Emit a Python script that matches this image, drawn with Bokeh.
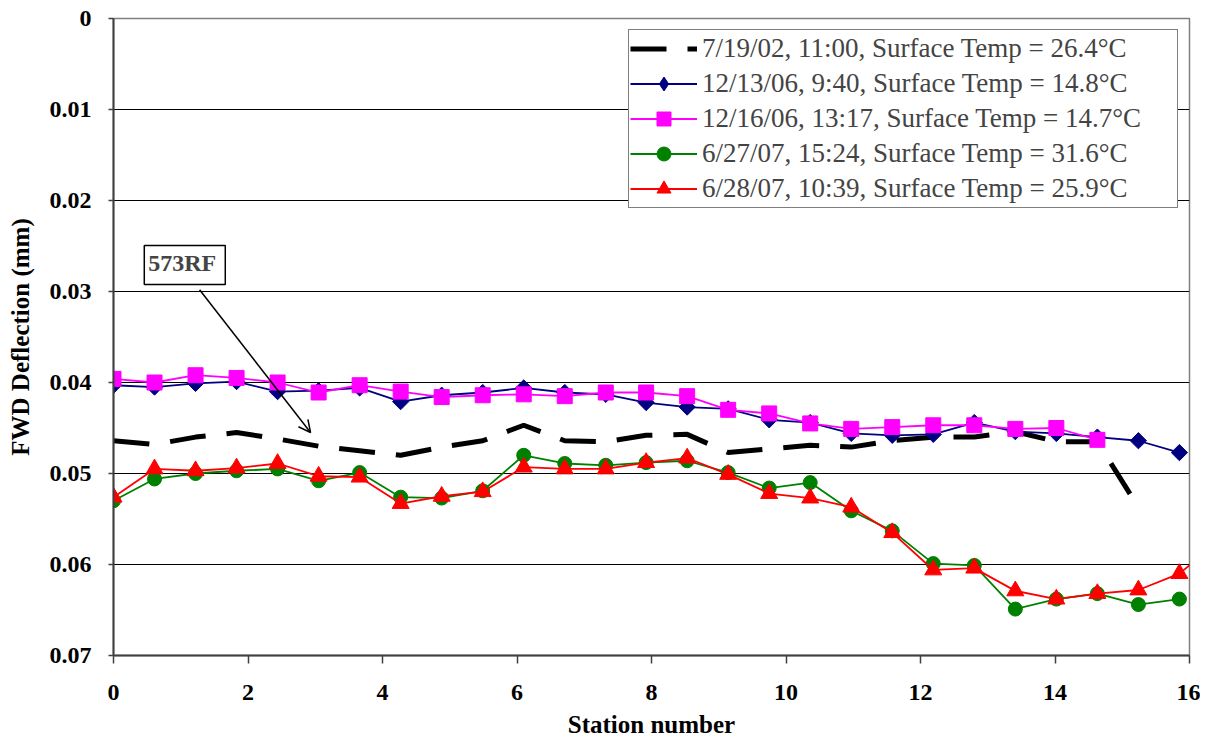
from bokeh.plotting import figure
from bokeh.models import (Range1d, FixedTicker, CustomJSTickFormatter, Legend, LegendItem,
                          Label, Arrow, OpenHead, CDSView, IndexFilter)
from bokeh.embed import file_html
from bokeh.resources import INLINE

# FWD deflection along section 573RF, five test dates

stations = [0.00, 0.61, 1.22, 1.83, 2.44, 3.05, 3.66, 4.27, 4.88, 5.49, 6.10, 6.71, 7.32, 7.92,
            8.53, 9.14, 9.75, 10.36, 10.97, 11.58, 12.19, 12.80, 13.41, 14.02, 14.63, 15.24,
            15.85, 16.46]

defl_2002 = [0.0464, 0.0468, 0.0460, 0.0455, 0.0462, 0.0470, 0.0475, 0.0480, 0.0471, 0.0464,
             0.0447, 0.0464, 0.0465, 0.0458, 0.0457, 0.0477, 0.0473, 0.0469, 0.0471, 0.0464,
             0.0460, 0.0460, 0.0454, 0.0465, 0.0465, 0.0537]
defl_dec13 = [0.0403, 0.0405, 0.0401, 0.0399, 0.0410, 0.0409, 0.0406, 0.0421, 0.0414, 0.0411,
              0.0406, 0.0411, 0.0413, 0.0422, 0.0427, 0.0429, 0.0441, 0.0444, 0.0456, 0.0458,
              0.0457, 0.0444, 0.0454, 0.0456, 0.0460, 0.0464, 0.0477]
defl_dec16 = [0.0396, 0.0400, 0.0392, 0.0395, 0.0400, 0.0411, 0.0403, 0.0410, 0.0416, 0.0414,
              0.0413, 0.0415, 0.0411, 0.0411, 0.0415, 0.0430, 0.0434, 0.0445, 0.0451, 0.0449,
              0.0447, 0.0447, 0.0451, 0.0450, 0.0463]
defl_jun27 = [0.0530, 0.0506, 0.0500, 0.0497, 0.0495, 0.0508, 0.0499, 0.0526, 0.0527, 0.0519,
              0.0480, 0.0489, 0.0491, 0.0488, 0.0486, 0.0499, 0.0516, 0.0510, 0.0541, 0.0563,
              0.0599, 0.0601, 0.0649, 0.0638, 0.0632, 0.0644, 0.0638]
defl_jun28 = [0.0526, 0.0495, 0.0497, 0.0494, 0.0489, 0.0503, 0.0504, 0.0533, 0.0525, 0.0520,
              0.0493, 0.0495, 0.0495, 0.0488, 0.0483, 0.0501, 0.0522, 0.0527, 0.0537, 0.0565,
              0.0606, 0.0604, 0.0629, 0.0638, 0.0632, 0.0628, 0.0610, 0.0573]

labels = ["7/19/02, 11:00, Surface Temp = 26.4°C",
          "12/13/06, 9:40, Surface Temp = 14.8°C",
          "12/16/06, 13:17, Surface Temp = 14.7°C",
          "6/27/07, 15:24, Surface Temp = 31.6°C",
          "6/28/07, 10:39, Surface Temp = 25.9°C"]

x_ticks = [0, 2, 4, 6, 8, 10, 12, 14, 16]
y_ticks = [0, 0.01, 0.02, 0.03, 0.04, 0.05, 0.06, 0.07]

FONT = "Liberation Serif"

p = figure(width=1200, height=740, output_backend="svg", toolbar_location=None,
           x_range=Range1d(0, 16), y_range=Range1d(0.07, 0),
           min_border_left=113, min_border_top=18, min_border_right=11, min_border_bottom=85)
p.background_fill_color = "white"
p.border_fill_color = "white"
p.outline_line_color = "#808080"
p.outline_line_width = 1.5

p.xgrid.visible = False
p.ygrid.ticker = FixedTicker(ticks=y_ticks[1:])
p.ygrid.grid_line_color = "black"
p.ygrid.grid_line_width = 1

for ax in (p.xaxis[0], p.yaxis[0]):
    ax.axis_line_color = "#404040"
    ax.axis_line_width = 2
    ax.major_tick_line_color = "#404040"
    ax.major_tick_line_width = 1.5
    ax.minor_tick_line_color = None
    ax.major_tick_in = 0
    ax.major_label_text_font = FONT
    ax.major_label_text_font_style = "bold"
    ax.major_label_text_font_size = "24px"
    ax.major_label_text_color = "black"
    ax.axis_label_text_font = FONT
    ax.axis_label_text_font_style = "bold"
    ax.axis_label_text_font_size = "25px"
    ax.axis_label_text_color = "black"

p.xaxis.ticker = FixedTicker(ticks=x_ticks)
p.xaxis.major_tick_out = 8
p.xaxis.major_label_standoff = 21
p.xaxis.axis_label = "Station number"
p.xaxis.axis_label_standoff = 8

p.yaxis.ticker = FixedTicker(ticks=y_ticks)
p.yaxis.formatter = CustomJSTickFormatter(code="return tick == 0 ? '0' : tick.toFixed(2);")
p.yaxis.major_tick_out = 5
p.yaxis.major_label_standoff = 17
p.yaxis.major_label_orientation = "horizontal"
p.yaxis.axis_label = "FWD Deflection (mm)"
p.yaxis.axis_label_standoff = 13

# series
r0 = p.line(stations[:len(defl_2002)], defl_2002, line_color="black", line_width=5,
            line_dash="36 21")

r1l = p.line(stations[:len(defl_dec13)], defl_dec13, line_color="#000080", line_width=1.8)
# legend swatch (the legend ignores marker angle); drawn once, hidden under the first marker
r1k = p.scatter(stations[:len(defl_dec13)], defl_dec13, marker="diamond", size=16,
                fill_color="#000080", line_color="#000080", view=CDSView(filter=IndexFilter([0])))
r1m = p.scatter(stations[:len(defl_dec13)], defl_dec13, marker="square", angle=0.7854,
                size=11.5, fill_color="#000080", line_color="#000080")

r2l = p.line(stations[:len(defl_dec16)], defl_dec16, line_color="#FF00FF", line_width=1.8)
r2m = p.scatter(stations[:len(defl_dec16)], defl_dec16, marker="square", size=15,
                fill_color="#FF00FF", line_color="#FF00FF")

r3l = p.line(stations[:len(defl_jun27)], defl_jun27, line_color="#008000", line_width=1.8)
r3m = p.scatter(stations[:len(defl_jun27)], defl_jun27, marker="circle", size=14,
                fill_color="#008000", line_color="#008000")

r4l = p.line(stations[:len(defl_jun28)], defl_jun28, line_color="#FF0000", line_width=1.8)
r4m = p.scatter(stations[:len(defl_jun28)], defl_jun28, marker="triangle", size=17,
                fill_color="#FF0000", line_color="#FF0000")

legend = Legend(items=[LegendItem(label=labels[0], renderers=[r0]),
                       LegendItem(label=labels[1], renderers=[r1l, r1k]),
                       LegendItem(label=labels[2], renderers=[r2l, r2m]),
                       LegendItem(label=labels[3], renderers=[r3l, r3m]),
                       LegendItem(label=labels[4], renderers=[r4l, r4m])],
                location="top_right", margin=11, padding=1, spacing=0,
                glyph_width=67, glyph_height=35, label_height=28, label_width=474,
                label_standoff=5, label_text_font=FONT, label_text_font_size="27px",
                border_line_color="black", border_line_width=1.5,
                background_fill_color="white", background_fill_alpha=1.0)
p.add_layout(legend)

# section callout
p.add_layout(Arrow(end=OpenHead(size=12, line_width=1.5, line_color="black"),
                   x_start=1.28, y_start=0.0298, x_end=2.93, y_end=0.0455,
                   line_color="black", line_width=1.5))
p.add_layout(Label(x=1.06, y=0.0271, text="573RF", text_align="center",
                   text_baseline="middle", text_font=FONT, text_font_style="bold",
                   text_font_size="24px", border_line_color="black", border_line_width=1.5,
                   background_fill_color="white", padding=(4, 9, 4, 9)))

open("out.html", "w").write(file_html(p, INLINE))
